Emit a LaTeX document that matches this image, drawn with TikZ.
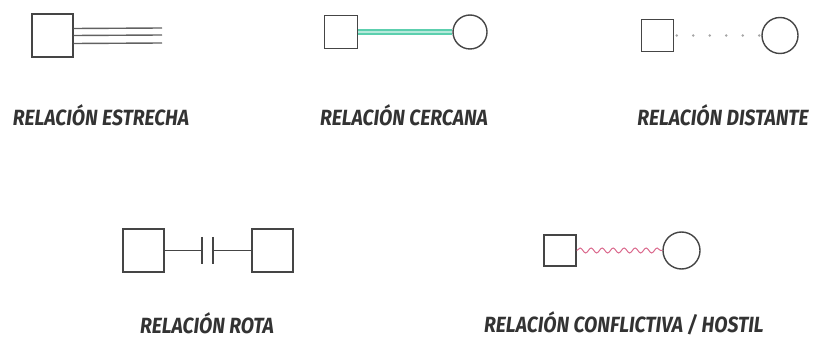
\documentclass[tikz,border=0pt]{standalone}
\usepackage{fontspec}
\newfontfamily\rotulofont[FakeStretch=0.88]{Fira Sans}
\usetikzlibrary{decorations.pathmorphing}
\definecolor{verdeagua}{HTML}{5CCFAE}
\definecolor{rosa}{HTML}{D4507A}
\definecolor{trazo}{HTML}{454545}

\begin{document}
\begin{tikzpicture}[x=1pt,y=-1pt,
    hombre/.style={rectangle,draw=trazo,line width=1.4pt,inner sep=0pt},
    mujer/.style={circle,draw=trazo,line width=1.4pt,inner sep=0pt},
    rotulo/.style={inner sep=1pt,font=\rotulofont\bfseries\itshape\fontsize{22}{22}\selectfont,text=black!80}]
      \useasboundingbox (0,0) rectangle (817,339);
      % relacion estrecha
      \node[hombre,minimum width=41pt,minimum height=43pt](e1) at (52.5,35.5){};
      \coordinate (e2) at (162,35);
      \foreach \d in {7,0,-8}
        \draw[trazo!85,line width=1.4pt] ([yshift=\d pt]e1.east) -- ([yshift=\d pt]e2);
      \node[rotulo](te) at (101,115){RELACIÓN ESTRECHA};
      % relacion cercana
      \node[hombre,minimum size=33pt](c1) at (341,32){};
      \node[mujer,minimum size=34pt](c2) at (470,32){};
      \draw[verdeagua,line width=2.3pt,double=verdeagua!45,double distance=1.8pt] (c1) -- (c2);
      \node[rotulo](tc) at (404,115){RELACIÓN CERCANA};
      % relacion distante
      \node[hombre,minimum size=32pt](d1) at (657.5,35.5){};
      \node[mujer,minimum size=36pt](d2) at (780,35.5){};
      \draw[gray!70,line width=2.8pt,line cap=round,dash pattern=on 0pt off 16.5pt,dash phase=14pt] (d1) -- (d2);
      \node[rotulo](td) at (723,115){RELACIÓN DISTANTE};
      % relacion rota
      \node[hombre,minimum width=41pt,minimum height=43pt](r1) at (143.5,250.5){};
      \node[hombre,minimum width=41pt,minimum height=43pt](r2) at (272.5,250.5){};
      \coordinate (b1) at (202,250.5);
      \coordinate (b2) at (213,250.5);
      \draw[trazo,line width=1.3pt] (r1) -- (b1);
      \draw[trazo,line width=1.3pt] (b2) -- (r2);
      \draw[trazo,line width=1.3pt] ([yshift=13.5pt]b1) -- ([yshift=-13.5pt]b1);
      \draw[trazo,line width=1.3pt] ([yshift=13.5pt]b2) -- ([yshift=-13.5pt]b2);
      \node[rotulo](tr) at (207,323){RELACIÓN ROTA};
      % relacion conflictiva
      \node[hombre,minimum width=32pt,minimum height=31pt](h1) at (560,250.5){};
      \node[mujer,minimum size=37pt](h2) at (681.5,250.5){};
      \draw[rosa!85,line width=1pt,decorate,decoration={snake,segment length=11pt,amplitude=2.5pt}] (h1) -- (h2);
      \node[rotulo](th) at (624,323){RELACIÓN CONFLICTIVA / HOSTIL};
    \end{tikzpicture}
\end{document}
